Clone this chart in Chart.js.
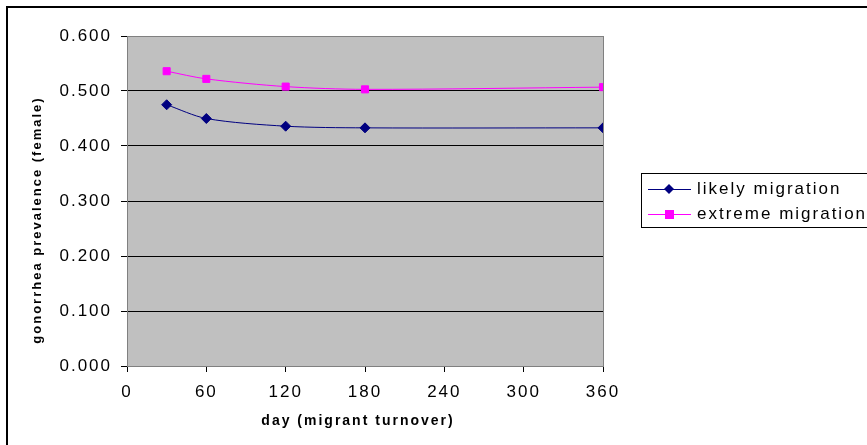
<!DOCTYPE html>
<html>
<head>
<meta charset="utf-8">
<script src="https://cdn.jsdelivr.net/npm/chart.js@4"></script>
<style>
  html, body { margin: 0; padding: 0; background: #fff; }
  #wrap { width: 867px; height: 445px; }
</style>
</head>
<body>
<div id="wrap"><canvas id="grafico"></canvas></div>
<script>
// datos
const dias = [30, 60, 120, 180, 360];
const likely = [0.475, 0.450, 0.436, 0.433, 0.433];
const extreme = [0.536, 0.522, 0.508, 0.503, 0.507];
const xTicks = [0, 60, 120, 180, 240, 300, 360];
const yTicks = [0, 0.1, 0.2, 0.3, 0.4, 0.5, 0.6];
const tituloX = 'day (migrant turnover)';
const tituloY = 'gonorrhea prevalence (female)';

const series = [
  { label: 'likely migration', values: likely, color: '#000080', point: 'rectRot', radius: 5 },
  { label: 'extreme migration', values: extreme, color: '#ff00ff', point: 'rect', radius: 5 }
];

const FONT = 'Arial, "Liberation Sans", sans-serif';

// el texto de Excel sale mas espaciado
const espaciado = {
  id: 'espaciado',
  beforeLayout(chart) { chart.ctx.letterSpacing = '2px'; },
  beforeDraw(chart) { chart.ctx.letterSpacing = '2px'; }
};

// fondo gris del area, marco exterior, titulos y leyenda
const decor = {
  id: 'decor',
  beforeDraw(chart) {
    const { ctx, chartArea: a } = chart;
    ctx.save();
    ctx.fillStyle = '#c0c0c0';
    ctx.fillRect(a.left, a.top, a.right - a.left, a.bottom - a.top);
    ctx.restore();
  },
  afterDraw(chart) {
    const { ctx, chartArea: a } = chart;
    ctx.save();
    ctx.strokeStyle = '#808080';
    ctx.lineWidth = 1;
    ctx.strokeRect(a.left + 0.5, a.top + 0.5, a.right - a.left, a.bottom - a.top);
    ctx.strokeStyle = '#000';
    ctx.lineWidth = 2;
    ctx.strokeRect(7, 7, 900, 500);

    // titulos de ejes
    ctx.fillStyle = '#000';
    ctx.textAlign = 'center';
    ctx.textBaseline = 'middle';
    ctx.font = 'bold 14px ' + FONT;
    ctx.fillText(tituloX, 358, 421);
    ctx.save();
    ctx.translate(37, 220);
    ctx.rotate(-Math.PI / 2);
    ctx.font = 'bold 13px ' + FONT;
    ctx.fillText(tituloY, 0, 0);
    ctx.restore();

    // leyenda
    const lx = 641, ly = 173, lw = 240, lh = 54;
    ctx.textAlign = 'left';
    ctx.lineWidth = 1;
    ctx.fillStyle = '#fff';
    ctx.fillRect(lx, ly, lw, lh);
    ctx.strokeStyle = '#000';
    ctx.strokeRect(lx + 0.5, ly + 0.5, lw, lh);
    ctx.font = '17px ' + FONT;
    series.forEach((s, i) => {
      const y = ly + 16 + i * 25;
      ctx.strokeStyle = s.color;
      ctx.beginPath();
      ctx.moveTo(lx + 7, y + 0.5);
      ctx.lineTo(lx + 50, y + 0.5);
      ctx.stroke();
      ctx.fillStyle = s.color;
      const cx = lx + 28;
      if (s.point === 'rect') {
        ctx.fillRect(cx - 4, y - 4, 9, 9);
      } else {
        ctx.beginPath();
        ctx.moveTo(cx, y - 5);
        ctx.lineTo(cx + 5, y);
        ctx.lineTo(cx, y + 5);
        ctx.lineTo(cx - 5, y);
        ctx.closePath();
        ctx.fill();
      }
      ctx.fillStyle = '#000';
      ctx.fillText(s.label, lx + 56, y);
    });
    ctx.restore();
  }
};

new Chart(document.getElementById('grafico').getContext('2d'), {
  type: 'line',
  data: {
    datasets: series.map(s => ({
      label: s.label,
      data: dias.map((d, i) => ({ x: d, y: s.values[i] })),
      borderColor: s.color,
      backgroundColor: s.color,
      borderWidth: 1,
      pointStyle: s.point,
      pointRadius: s.radius,
      pointHoverRadius: s.radius,
      tension: 0.3,
      fill: false
    }))
  },
  options: {
    responsive: true,
    maintainAspectRatio: false,
    animation: false,
    events: [],
    layout: { padding: { left: 9, top: 36, right: 264, bottom: 0 } },
    plugins: { legend: { display: false }, tooltip: { enabled: false } },
    scales: {
      x: {
        type: 'linear',
        min: 0, max: 360,
        afterBuildTicks: sc => { sc.ticks = xTicks.map(v => ({ value: v })); },
        afterFit: sc => { sc.height = 79; },
        grid: { display: true, drawOnChartArea: false, color: '#000', tickLength: 6 },
        border: { color: '#000' },
        ticks: { color: '#000', font: { family: FONT, size: 17 }, padding: 10, maxRotation: 0 }
      },
      y: {
        min: 0, max: 0.6,
        afterBuildTicks: sc => { sc.ticks = yTicks.map(v => ({ value: v })); },
        afterFit: sc => { sc.width = 118; },
        grid: { color: '#000', tickLength: 6 },
        border: { color: '#000' },
        ticks: { color: '#000', font: { family: FONT, size: 17 }, padding: 9, callback: v => v.toFixed(3) }
      }
    }
  },
  plugins: [espaciado, decor]
});
</script>
</body>
</html>
